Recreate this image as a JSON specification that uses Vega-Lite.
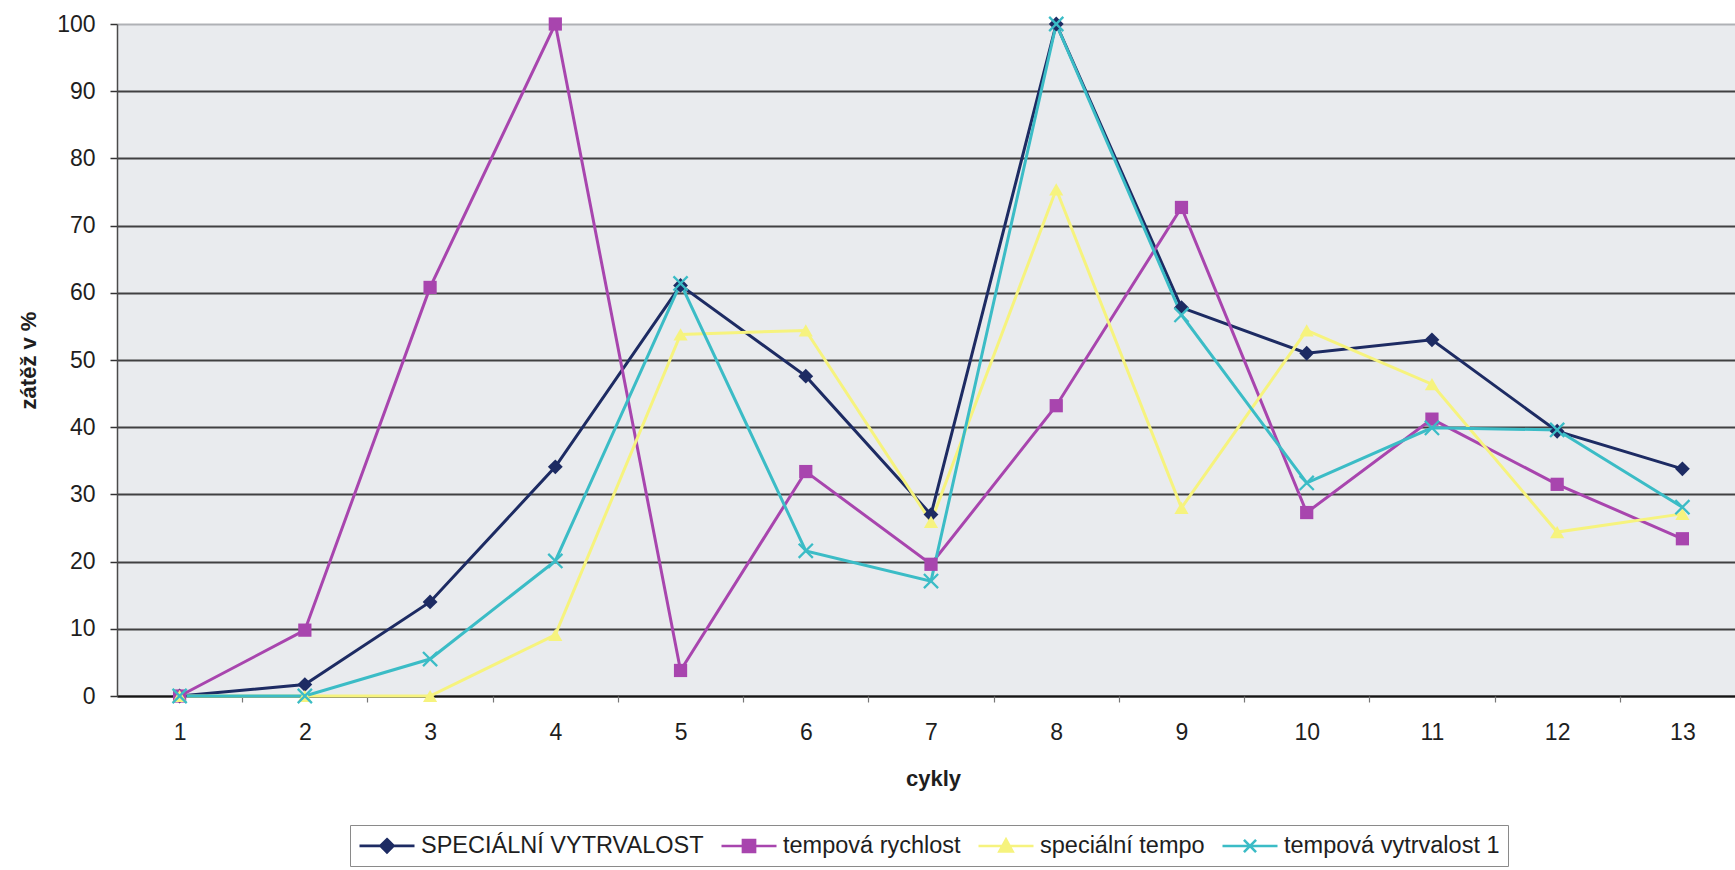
{
  "$schema": "https://vega.github.io/schema/vega-lite/v6.json",
  "width": 1618,
  "height": 672,
  "autosize": {"type": "none"},
  "padding": {"left": 117, "top": 24, "right": 0, "bottom": 174},
  "background": "white",
  "config": {
    "view": {"fill": "#e9ebee", "stroke": null},
    "font": "Liberation Sans"
  },
  "data": {
    "values": [
      {"cyklus": 1, "serie": "SPECIÁLNÍ VYTRVALOST", "zatez": 0},
      {"cyklus": 2, "serie": "SPECIÁLNÍ VYTRVALOST", "zatez": 1.7},
      {"cyklus": 3, "serie": "SPECIÁLNÍ VYTRVALOST", "zatez": 14.0},
      {"cyklus": 4, "serie": "SPECIÁLNÍ VYTRVALOST", "zatez": 34.1},
      {"cyklus": 5, "serie": "SPECIÁLNÍ VYTRVALOST", "zatez": 61.1},
      {"cyklus": 6, "serie": "SPECIÁLNÍ VYTRVALOST", "zatez": 47.6},
      {"cyklus": 7, "serie": "SPECIÁLNÍ VYTRVALOST", "zatez": 27.0},
      {"cyklus": 8, "serie": "SPECIÁLNÍ VYTRVALOST", "zatez": 100},
      {"cyklus": 9, "serie": "SPECIÁLNÍ VYTRVALOST", "zatez": 57.8},
      {"cyklus": 10, "serie": "SPECIÁLNÍ VYTRVALOST", "zatez": 51.0},
      {"cyklus": 11, "serie": "SPECIÁLNÍ VYTRVALOST", "zatez": 53.0},
      {"cyklus": 12, "serie": "SPECIÁLNÍ VYTRVALOST", "zatez": 39.4},
      {"cyklus": 13, "serie": "SPECIÁLNÍ VYTRVALOST", "zatez": 33.8},
      {"cyklus": 1, "serie": "tempová rychlost", "zatez": 0},
      {"cyklus": 2, "serie": "tempová rychlost", "zatez": 9.8},
      {"cyklus": 3, "serie": "tempová rychlost", "zatez": 60.8},
      {"cyklus": 4, "serie": "tempová rychlost", "zatez": 100},
      {"cyklus": 5, "serie": "tempová rychlost", "zatez": 3.8},
      {"cyklus": 6, "serie": "tempová rychlost", "zatez": 33.4},
      {"cyklus": 7, "serie": "tempová rychlost", "zatez": 19.6},
      {"cyklus": 8, "serie": "tempová rychlost", "zatez": 43.2},
      {"cyklus": 9, "serie": "tempová rychlost", "zatez": 72.7},
      {"cyklus": 10, "serie": "tempová rychlost", "zatez": 27.3},
      {"cyklus": 11, "serie": "tempová rychlost", "zatez": 41.2},
      {"cyklus": 12, "serie": "tempová rychlost", "zatez": 31.5},
      {"cyklus": 13, "serie": "tempová rychlost", "zatez": 23.4},
      {"cyklus": 1, "serie": "speciální tempo", "zatez": 0},
      {"cyklus": 2, "serie": "speciální tempo", "zatez": 0},
      {"cyklus": 3, "serie": "speciální tempo", "zatez": 0},
      {"cyklus": 4, "serie": "speciální tempo", "zatez": 9.1},
      {"cyklus": 5, "serie": "speciální tempo", "zatez": 53.8},
      {"cyklus": 6, "serie": "speciální tempo", "zatez": 54.4},
      {"cyklus": 7, "serie": "speciální tempo", "zatez": 25.9},
      {"cyklus": 8, "serie": "speciální tempo", "zatez": 75.4},
      {"cyklus": 9, "serie": "speciální tempo", "zatez": 28.0},
      {"cyklus": 10, "serie": "speciální tempo", "zatez": 54.4},
      {"cyklus": 11, "serie": "speciální tempo", "zatez": 46.4},
      {"cyklus": 12, "serie": "speciální tempo", "zatez": 24.4},
      {"cyklus": 13, "serie": "speciální tempo", "zatez": 27.1},
      {"cyklus": 1, "serie": "tempová vytrvalost 1", "zatez": 0},
      {"cyklus": 2, "serie": "tempová vytrvalost 1", "zatez": 0},
      {"cyklus": 3, "serie": "tempová vytrvalost 1", "zatez": 5.5},
      {"cyklus": 4, "serie": "tempová vytrvalost 1", "zatez": 20.1},
      {"cyklus": 5, "serie": "tempová vytrvalost 1", "zatez": 61.4},
      {"cyklus": 6, "serie": "tempová vytrvalost 1", "zatez": 21.6},
      {"cyklus": 7, "serie": "tempová vytrvalost 1", "zatez": 17.1},
      {"cyklus": 8, "serie": "tempová vytrvalost 1", "zatez": 100},
      {"cyklus": 9, "serie": "tempová vytrvalost 1", "zatez": 56.7},
      {"cyklus": 10, "serie": "tempová vytrvalost 1", "zatez": 31.7},
      {"cyklus": 11, "serie": "tempová vytrvalost 1", "zatez": 39.9},
      {"cyklus": 12, "serie": "tempová vytrvalost 1", "zatez": 39.6},
      {"cyklus": 13, "serie": "tempová vytrvalost 1", "zatez": 28.1}
    ]
  },
  "resolve": {"axis": {"x": "independent", "y": "independent"}},
  "layer": [
    {
      "mark": {"type": "line", "strokeWidth": 3},
      "encoding": {
        "x": {
          "field": "cyklus",
          "type": "quantitative",
          "scale": {"domain": [0.5, 13.42], "nice": false, "zero": false},
          "axis": {
            "orient": "bottom",
            "values": [1, 2, 3, 4, 5, 6, 7, 8, 9, 10, 11, 12, 13],
            "tickSize": 0,
            "grid": false,
            "domain": true,
            "domainColor": "#151515",
            "domainWidth": 2,
            "labelFontSize": 23,
            "labelColor": "#1e1e1e",
            "labelPadding": 25,
            "labelFlush": false,
            "labelOverlap": false,
            "title": "cykly",
            "titleFontSize": 22,
            "titleFontWeight": "bold",
            "titleColor": "#1e1e1e",
            "titleX": 816,
            "titleY": 89,
            "titleBaseline": "alphabetic"
          }
        },
        "y": {
          "field": "zatez",
          "type": "quantitative",
          "scale": {"domain": [0, 100], "nice": false},
          "axis": {
            "orient": "left",
            "values": [0, 10, 20, 30, 40, 50, 60, 70, 80, 90, 100],
            "grid": true,
            "gridColor": {"condition": {"test": "datum.value === 100", "value": "#a9abae"}, "value": "#2e2e2e"},
            "gridWidth": 1.8,
            "gridOpacity": 0.9,
            "tickSize": 7,
            "tickColor": "#333333",
            "tickWidth": 1.5,
            "domainColor": "#4a4a4a",
            "domainWidth": 1.5,
            "labelFontSize": 23,
            "labelColor": "#1e1e1e",
            "labelPadding": 15,
            "labelFlush": false,
            "labelOverlap": false,
            "title": "zátěž v %",
            "titleFontSize": 22,
            "titleFontWeight": "bold",
            "titleColor": "#1e1e1e",
            "titleX": -82,
            "titleBaseline": "alphabetic"
          }
        },
        "stroke": {
          "field": "serie",
          "type": "nominal",
          "scale": {
            "domain": ["SPECIÁLNÍ VYTRVALOST", "tempová rychlost", "speciální tempo", "tempová vytrvalost 1"],
            "range": ["#1d2b63", "#a845ae", "#f6f37e", "#3bbcc6"]
          }
        }
      }
    },
    {
      "transform": [{"filter": "datum.serie === 'SPECIÁLNÍ VYTRVALOST'"}],
      "mark": {"type": "point", "filled": true, "opacity": 1, "shape": "diamond", "size": 220},
      "encoding": {
        "x": {"field": "cyklus", "type": "quantitative", "axis": null},
        "y": {"field": "zatez", "type": "quantitative", "axis": null},
        "fill": {"field": "serie", "type": "nominal"}
      }
    },
    {
      "transform": [{"filter": "datum.serie === 'tempová rychlost'"}],
      "mark": {"type": "point", "filled": true, "opacity": 1, "shape": "square", "size": 175},
      "encoding": {
        "x": {"field": "cyklus", "type": "quantitative", "axis": null},
        "y": {"field": "zatez", "type": "quantitative", "axis": null},
        "fill": {"field": "serie", "type": "nominal"}
      }
    },
    {
      "transform": [{"filter": "datum.serie === 'speciální tempo'"}],
      "mark": {"type": "point", "filled": true, "opacity": 1, "shape": "triangle-up", "size": 200},
      "encoding": {
        "x": {"field": "cyklus", "type": "quantitative", "axis": null},
        "y": {"field": "zatez", "type": "quantitative", "axis": null},
        "fill": {"field": "serie", "type": "nominal"}
      }
    },
    {
      "transform": [{"filter": "datum.serie === 'tempová vytrvalost 1'"}],
      "mark": {
        "type": "point",
        "filled": false,
        "opacity": 1,
        "shape": "M-1,-1L1,1M1,-1L-1,1",
        "size": 200,
        "strokeWidth": 2.3
      },
      "encoding": {
        "x": {"field": "cyklus", "type": "quantitative", "axis": null},
        "y": {"field": "zatez", "type": "quantitative", "axis": null},
        "stroke": {"field": "serie", "type": "nominal"}
      }
    },
    {
      "transform": [{"filter": "false"}],
      "mark": {"type": "point", "opacity": 1, "strokeWidth": 2.6},
      "encoding": {
        "x": {
          "field": "cyklus",
          "type": "quantitative",
          "axis": {
            "orient": "bottom",
            "values": [1.5, 2.5, 3.5, 4.5, 5.5, 6.5, 7.5, 8.5, 9.5, 10.5, 11.5, 12.5],
            "labels": false,
            "domain": false,
            "grid": false,
            "tickSize": 6,
            "tickColor": "#777777",
            "tickWidth": 1.2,
            "title": null
          }
        },
        "y": {"field": "zatez", "type": "quantitative", "axis": null},
        "fill": {
          "field": "serie",
          "type": "nominal",
          "scale": {
            "domain": ["SPECIÁLNÍ VYTRVALOST", "tempová rychlost", "speciální tempo", "tempová vytrvalost 1"],
            "range": ["#1d2b63", "#a845ae", "#f6f37e", "#3bbcc6"]
          }
        },
        "stroke": {"field": "serie", "type": "nominal"},
        "shape": {
          "field": "serie",
          "type": "nominal",
          "scale": {
            "domain": ["SPECIÁLNÍ VYTRVALOST", "tempová rychlost", "speciální tempo", "tempová vytrvalost 1"],
            "range": [
              "M-1,0H4M1.5,-0.6L2.1,0L1.5,0.6L0.9,0Z",
              "M-1,0H4M0.95,-0.55H2.05V0.55H0.95Z",
              "M-1,0H4M1.5,-0.6L2.1,0.5H0.9Z",
              "M-1,0H4M0.95,-0.55L2.05,0.55M2.05,-0.55L0.95,0.55"
            ]
          },
          "legend": {
            "orient": "none",
            "legendX": 233,
            "legendY": 801,
            "direction": "horizontal",
            "columns": 4,
            "title": null,
            "symbolSize": 484,
            "symbolStrokeWidth": 2.6,
            "labelOffset": 38,
            "columnPadding": 12,
            "labelFontSize": 23.5,
            "labelColor": "#1e1e1e",
            "labelLimit": 400,
            "padding": 8,
            "strokeColor": "#8a8a8a",
            "fillColor": "white"
          }
        }
      }
    }
  ]
}
